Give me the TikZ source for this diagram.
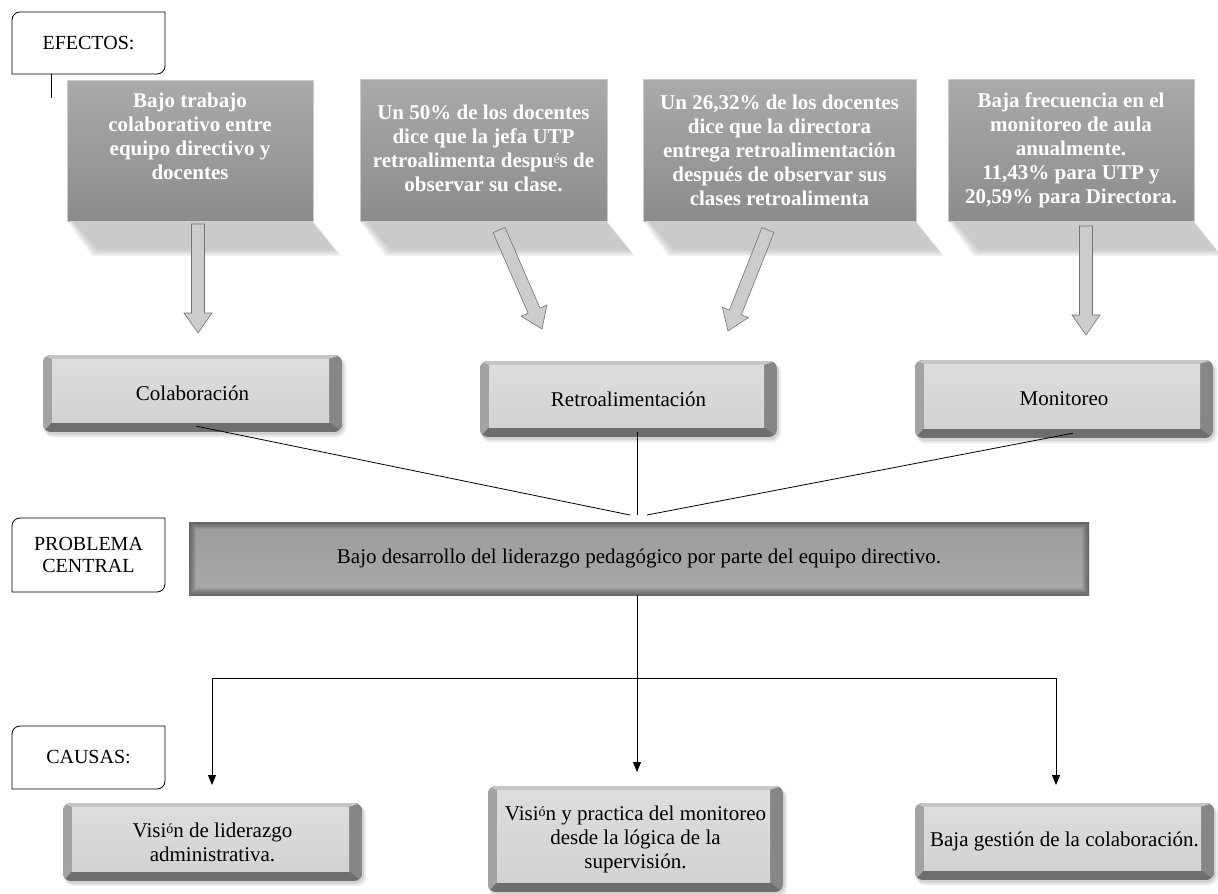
\documentclass[tikz,border=0pt]{standalone}
\usepackage{fontspec}
\setmainfont{Liberation Serif}
\usetikzlibrary{calc,arrows.meta}
\definecolor{bevbot}{HTML}{6E6E6E}
\definecolor{bevleft}{HTML}{A3A3A3}
\definecolor{bevtop}{HTML}{C6C6C6}
\definecolor{bevright}{HTML}{868686}
\definecolor{facetop}{HTML}{DDDDDD}
\definecolor{facebot}{HTML}{D3D3D3}
\definecolor{tbtop}{HTML}{AAAAAA}
\definecolor{tbbot}{HTML}{8C8C8C}
\definecolor{cbtop}{HTML}{9C9C9C}
\definecolor{cbbot}{HTML}{A9A9A9}
\newcommand\smallacc[1]{\raisebox{0.4ex}{\mdseries\fontsize{14}{14}\selectfont #1}}
\newcommand\bevbox[6]{%
  \fill[black,opacity=0.08,rounded corners=9] (#2+1,#3+2) rectangle (#4+4,#5+5);
  \fill[black,opacity=0.10,rounded corners=9] (#2+1,#3+2) rectangle (#4+2,#5+3);
  \begin{scope}
    \clip[rounded corners=8] (#2,#3) rectangle (#4,#5);
    \fill[bevbot] (#2,#3) rectangle (#4,#5);
    \fill[bevleft] (#2,#3) -- (#2+9,#3+4) -- (#2+9,#5-10) -- (#2,#5) -- cycle;
    \fill[bevtop] (#2,#3) -- (#4,#3) -- (#4-13,#3+4) -- (#2+9,#3+4) -- cycle;
    \fill[bevright] (#4,#3) -- (#4,#5) -- (#4-13,#5-10) -- (#4-13,#3+4) -- cycle;
    \shade[top color=facetop,bottom color=facebot] (#2+9,#3+4) rectangle (#4-13,#5-10);
  \end{scope}
  \node[bevtext, minimum width={(#4-#2)*1pt}, minimum height={(#5-#3)*1pt}] (#1) at ({(#2+#4)/2},{(#3+#5)/2}) {#6};
}
\newcommand\lblbox[6]{%
  \draw[lblline] (#2,#5) -- (#2,#3+8) arc[start angle=180,end angle=270,radius=8] -- (#4,#3) -- (#4,#5-8) arc[start angle=0,end angle=90,radius=8] -- cycle;
  \node[lbltext, minimum width={(#4-#2)*1pt}, minimum height={(#5-#3)*1pt}] (#1) at ({(#2+#4)/2},{(#3+#5)/2}) {#6};
}
\newcommand\blockarrow[2]{%
  \coordinate (hh) at ($(#2)!20pt!(#1)$);
  \draw[barrow] ($(#1)!6.5pt!90:(#2)$) -- ($(hh)!6.5pt!-90:(#1)$) -- ($(hh)!14pt!-90:(#1)$) -- (#2)
     -- ($(hh)!14pt!90:(#1)$) -- ($(hh)!6.5pt!90:(#1)$) -- ($(#1)!6.5pt!-90:(#2)$) -- cycle;
}
% soft perspective shadow under a top box: x1 x2 (top at 221)
\newcommand\boxshadow[2]{%
  \foreach \k in {0,1.5,3,4.5,6} {%
    \fill[black!45,opacity=0.11] (#1+\k,221) -- (#2-\k*0.3,221) -- (#2+28-\k,256-\k) -- (#1+25+\k,256-\k) -- cycle;
  }%
}
\begin{document}
\begin{tikzpicture}[x=1pt,y=-1pt,
  toptext/.style={text=white, font=\bfseries\fontsize{21}{24}\selectfont, align=center, inner sep=0pt},
  bevtext/.style={font=\fontsize{21}{24}\selectfont, align=center, inner sep=0pt},
  lbltext/.style={font=\fontsize{20}{22}\selectfont, align=center, inner sep=0pt},
  lblline/.style={draw=black, line width=0.8pt, fill=white},
  conn/.style={draw=black, line width=0.8pt},
  arr/.style={conn, -{Triangle[length=10pt,width=8pt]}},
  barrow/.style={fill=gray!40, draw=black!55, line width=0.6pt},
  topbox/.style={rectangle, top color=tbtop, bottom color=tbbot, draw=black!20, line width=0.5pt, inner sep=0pt},
  centralbox/.style={rectangle, inner sep=0pt, font=\fontsize{21}{24}\selectfont}
]
\useasboundingbox (0,0) rectangle (1218,894);
\fill[white] (0,0) rectangle (1218,894);

% shadows of top boxes
\boxshadow{67}{313}
\boxshadow{360}{607}
\boxshadow{643}{916}
\begin{scope}
  \clip (0,0) rectangle (1218,894);
  \boxshadow{948}{1194}
\end{scope}

% top boxes
\node[topbox, minimum width=246pt, minimum height=141pt] (e1) at (190,150.5) {};
\node[topbox, minimum width=247pt, minimum height=142pt] (e2) at (483.5,150) {};
\node[topbox, minimum width=273pt, minimum height=142pt] (e3) at (779.5,150) {};
\node[topbox, minimum width=246pt, minimum height=142pt] (e4) at (1071,150) {};
\node[toptext] (e1t) at (190,136) {Bajo trabajo\\colaborativo entre\\equipo directivo y\\docentes};
\node[toptext] (e2t) at (483.5,148) {Un 50\% de los docentes\\dice que la jefa UTP\\retroalimenta despu\smallacc{é}s de\\observar su clase.};
\node[toptext] (e3t) at (779.5,150) {Un 26,32\% de los docentes\\dice que la directora\\entrega retroalimentación\\después de observar sus\\clases retroalimenta};
\node[toptext] (e4t) at (1071,150) {Baja frecuencia en el\\monitoreo de aula\\anualmente.\\11,43\% para UTP y\\20,59\% para Directora.};

% block arrows
\coordinate (a1s) at (198,224); \coordinate (a1e) at (198,333);
\coordinate (a2s) at (499,230); \coordinate (a2e) at (542,329);
\coordinate (a3s) at (768,230); \coordinate (a3e) at (728,331);
\coordinate (a4s) at (1086,226); \coordinate (a4e) at (1086,335);
\blockarrow{a1s}{a1e}
\blockarrow{a2s}{a2e}
\blockarrow{a3s}{a3e}
\blockarrow{a4s}{a4e}

% label boxes
\lblbox{efectos}{12}{12}{165}{74}{EFECTOS:}
\draw[conn] ($(efectos.south west)+(40,0)$) -- ++(0,24);
\lblbox{problema}{12}{518}{165}{592}{PROBLEMA\\CENTRAL}
\lblbox{causas}{12}{726}{165}{789}{CAUSAS:}

% middle boxes
\bevbox{colab}{43}{355}{342}{432}{Colaboración}
\bevbox{retro}{480}{361}{777}{437}{Retroalimentación}
\bevbox{monit}{915}{360}{1213}{438}{Monitoreo}

% central problem
\shade[top color=cbtop,bottom color=cbbot] (189,522) rectangle (1089,595);
\begin{scope}
  \clip (189,522) rectangle (1089,595);
  \foreach \w in {2,4,...,14} \draw[black,opacity=0.06,line width=\w pt] (189,522) rectangle (1089,595);
\end{scope}
\node[centralbox, minimum width=900pt, minimum height=73pt] (central) at (639,558.5) {Bajo desarrollo del liderazgo pedagógico por parte del equipo directivo.};

% connectors to central
\coordinate (m1) at (630,515);
\coordinate (m2) at (637,515);
\coordinate (m3) at (647,515);
\draw[conn] ($(colab.south)+(4,-6)$) -- (m1);
\draw[conn] ($(retro.south -| m2)+(0,-5)$) -- (m2);
\draw[conn] ($(monit.south)+(9,-5)$) -- (m3);

% causes
\bevbox{c1}{63}{803}{362}{881}{Visi\smallacc{ó}n de liderazgo\\administrativa.}
\bevbox{c2}{488}{786}{783}{892}{Visi\smallacc{ó}n y practica del monitoreo\\desde la lógica de la\\supervisión.}
\bevbox{c3}{915}{803}{1214}{880}{Baja gestión de la colaboración.}

\coordinate (jm) at (637,678);
\coordinate (t1) at (212,785);
\coordinate (t2) at (637,772);
\coordinate (t3) at (1056,785);
\draw[arr] (central.south -| jm) -- (t2);
\draw[arr] (jm) -| (t1);
\draw[arr] (jm) -| (t3);
\end{tikzpicture}
\end{document}
